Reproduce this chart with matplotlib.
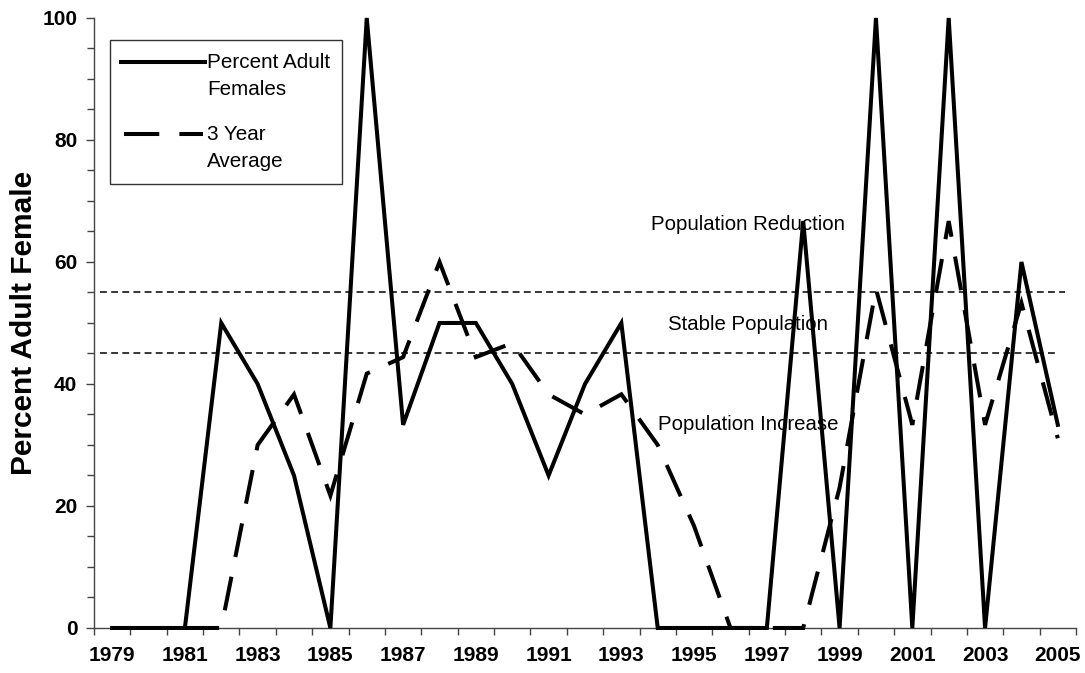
import numpy as np
import matplotlib
matplotlib.use("Agg")
import matplotlib.pyplot as plt
from matplotlib.patches import Rectangle
from matplotlib.lines import Line2D

plt.rcParams['font.family'] = ['Liberation Sans', 'DejaVu Sans']

# Survey years
years = list(range(1979, 2006))

# Percent of adults that were female, per year
pct_adult_females = [0, 0, 0, 50, 40, 25, 0, 100, 33.3, 50, 50, 40, 25, 40, 50,
                     0, 0, 0, 0, 66.7, 0, 100, 0, 100, 0, 60, 33.3]

# Three-year running average (no value for the first two years)
three_year_avg = [np.nan, np.nan, 0, 0, 30, 38.3, 21.7, 41.7, 44.4, 60, 44.4,
                  46.7, 38.3, 35, 38.3, 30, 16.7, 0, 0, 0, 23, 55.6, 33.3,
                  66.7, 33.3, 53.3, 31.1]

# Management thresholds
upper_threshold = 55
lower_threshold = 45

zone_labels = ["Population Reduction", "Stable Population", "Population Increase"]
zone_label_y = [66.2, 49.8, 33.4]

fig = plt.figure(figsize=(10.85, 6.73), dpi=100)
ax = fig.add_axes([0.0866, 0.0669, 0.9051, 0.9064])

x = np.arange(len(years))

ax.plot(x, pct_adult_females, color='black', lw=2.9,
        solid_joinstyle='miter', clip_on=False, zorder=3)
ax.plot(x, three_year_avg, color='black', lw=2.9, dashes=(8.5, 5),
        dash_joinstyle='miter', clip_on=False, zorder=3)

# Threshold lines
ax.plot([-0.33, 26.2], [upper_threshold] * 2, color='black', lw=1.1,
        dashes=(4.5, 2.8), zorder=2)
ax.plot([-0.33, 25.92], [lower_threshold] * 2, color='black', lw=1.1,
        dashes=(4.5, 2.8), zorder=2)

for label, yv in zip(zone_labels, zone_label_y):
    ax.text(17.48, yv, label, ha='center', va='center', fontsize=14.7,
            color='black', zorder=4)

ax.set_xlim(-0.5, len(years) - 0.5)
ax.set_ylim(0, 100)

# Ticks between categories, labels on every other year
ax.set_xticks(np.arange(-0.5, len(years), 1.0))
ax.set_xticklabels([])
ax.tick_params(axis='x', which='major', direction='out', length=5,
               width=1, color='#444444')
ax.set_xticks(x[::2], minor=True)
ax.set_xticklabels([str(y) for y in years[::2]], minor=True,
                   fontsize=15, fontweight='bold')
ax.tick_params(axis='x', which='minor', length=0, pad=13)

ax.set_yticks(np.arange(0, 101, 20))
ax.set_yticklabels([str(v) for v in range(0, 101, 20)], fontsize=15,
                   fontweight='bold')
ax.set_yticks(np.arange(0, 101, 5), minor=True)
ax.tick_params(axis='y', which='major', direction='out', length=6,
               width=1, color='#444444', pad=6)
ax.tick_params(axis='y', which='minor', direction='out', length=5,
               width=1, color='#444444')

ax.set_ylabel("Percent Adult Female", fontsize=21.5, fontweight='bold',
              labelpad=3)

for side in ('top', 'right'):
    ax.spines[side].set_visible(False)
for side in ('left', 'bottom'):
    ax.spines[side].set_color('#444444')
    ax.spines[side].set_linewidth(1)

# Legend box, handles aligned with the first line of each entry
leg_box = Rectangle((110 / 1085, 1 - 184 / 673), 232 / 1085, 144 / 673,
                    transform=fig.transFigure, facecolor='white',
                    edgecolor='#333333', lw=1, zorder=5)
fig.add_artist(leg_box)
fig.add_artist(Line2D([121 / 1085, 205 / 1085], [1 - 62 / 673] * 2,
                      transform=fig.transFigure, color='black', lw=2.9,
                      zorder=6))
fig.add_artist(Line2D([124 / 1085, 203 / 1085], [1 - 134 / 673] * 2,
                      transform=fig.transFigure, color='black', lw=2.9,
                      dashes=(8.75, 5), zorder=6))
fig.text(207 / 1085, 1 - 76 / 673, "Percent Adult\nFemales", fontsize=14.9,
         va='center', ha='left', linespacing=1.55, zorder=7)
fig.text(207 / 1085, 1 - 148 / 673, "3 Year\nAverage", fontsize=14.9,
         va='center', ha='left', linespacing=1.55, zorder=7)

fig.savefig("out.png", dpi=100)
